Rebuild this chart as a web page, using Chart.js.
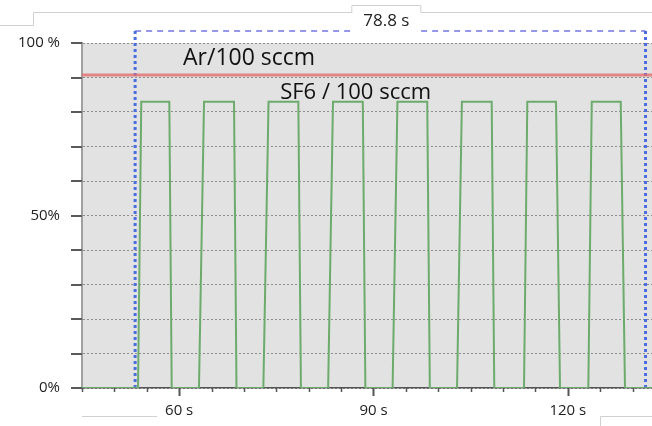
<!DOCTYPE html>
<html>
<head>
<meta charset="utf-8">
<script src="https://cdn.jsdelivr.net/npm/chart.js@4"></script>
<style>
  html, body { margin: 0; padding: 0; background: #fff; overflow: hidden; }
  #wrap { width: 652px; height: 426px; position: relative; }
  canvas { display: block; }
</style>
</head>
<body>
<div id="wrap"><canvas id="gasChart"></canvas></div>
<script>
// SF6 flow trace (time in s, flow in %)
const sf6Time = [45, 53.65, 54.15, 58.48, 58.85,
  63.06, 63.84, 68.47, 68.85,
  73.0, 73.8, 78.4, 78.8,
  83.0, 83.75, 88.35, 88.75,
  92.95, 93.7, 98.3, 98.7,
  102.9, 103.65, 108.25, 108.65,
  113.24, 113.75, 118.18, 118.8,
  123.17, 123.7, 128.17, 128.83, 133];
const sf6Percent = [0, 0, 83, 83, 0,
  0, 83, 83, 0,
  0, 83, 83, 0,
  0, 83, 83, 0,
  0, 83, 83, 0,
  0, 83, 83, 0,
  0, 83, 83, 0,
  0, 83, 83, 0, 0];
// Ar flow is flat
const arTime = [45, 133];
const arPercent = [90.7, 90.7];
// measurement cursors
const cursorTimes = [53.2, 132.0];
const cursorTop = 103.5;
// axis ticks and labels
const xTickValues = [45, 50, 55, 60, 65, 70, 75, 80, 85, 90, 95, 100, 105, 110, 115, 120, 125, 130];
const xLabelTimes = [60, 90, 120];
const yLabelValues = [0, 50, 100];
const yLabelText = ['0%', '50%', '100 %'];

const FONT = '"Open Sans", "Noto Sans", sans-serif';
const pts = (xs, ys) => xs.map((x, i) => ({ x: x, y: ys[i] }));

const decor = {
  id: 'decor',
  beforeDraw(chart) {
    const { ctx, chartArea: a } = chart;
    ctx.save();
    ctx.fillStyle = '#e2e2e2';
    ctx.fillRect(a.left, a.top, a.right - a.left, a.bottom - a.top);
    // faint screenshot frame lines
    ctx.strokeStyle = '#d0d0d0';
    ctx.lineWidth = 1;
    ctx.beginPath();
    ctx.moveTo(0, 25.5); ctx.lineTo(33.5, 25.5); ctx.lineTo(33.5, 12.5); ctx.lineTo(353, 12.5);
    ctx.moveTo(421, 12.5); ctx.lineTo(652, 12.5);
    ctx.moveTo(82, 416.5); ctx.lineTo(157, 416.5);
    ctx.moveTo(652, 416.5); ctx.lineTo(600.5, 416.5); ctx.lineTo(600.5, 426);
    ctx.stroke();
    ctx.restore();
  },
  afterDraw(chart) {
    const { ctx, chartArea: a } = chart;
    const xs = chart.scales.x, ys = chart.scales.y;
    ctx.save();
    // x ticks
    ctx.strokeStyle = '#555';
    xs.ticks.forEach(t => {
      const px = Math.round(xs.getPixelForValue(t.value)) + 0.5;
      const major = xLabelTimes.includes(t.value);
      ctx.lineWidth = major ? 2 : 1.5;
      ctx.beginPath();
      ctx.moveTo(px, a.bottom);
      ctx.lineTo(px, a.bottom + (major ? 8 : 4));
      ctx.stroke();
    });
    // y ticks
    ctx.strokeStyle = '#5a5a5a';
    ctx.lineWidth = 2;
    ys.ticks.forEach(t => {
      const py = Math.round(ys.getPixelForValue(t.value));
      ctx.beginPath();
      ctx.moveTo(a.left - 11, py);
      ctx.lineTo(a.left, py);
      ctx.stroke();
    });
    // annotations
    ctx.fillStyle = '#111';
    ctx.textBaseline = 'middle';
    ctx.textAlign = 'left';
    ctx.font = '23px ' + FONT;
    ctx.fillText('Ar/100 sccm', xs.getPixelForValue(60.6), ys.getPixelForValue(95.4));
    ctx.font = '22px ' + FONT;
    ctx.fillText('SF6 / 100 sccm', xs.getPixelForValue(75.6), ys.getPixelForValue(85.6));
    // cursor span label
    const c0 = xs.getPixelForValue(cursorTimes[0]);
    const c1 = xs.getPixelForValue(cursorTimes[1]);
    const mid = (c0 + c1) / 2 - 4;
    ctx.fillStyle = '#fff';
    ctx.fillRect(mid - 34, 5, 68, 31);
    ctx.strokeStyle = '#d0d0d0';
    ctx.lineWidth = 1;
    ctx.beginPath();
    ctx.moveTo(mid - 34.5, 12.5); ctx.lineTo(mid - 34.5, 5.5); ctx.lineTo(mid + 34.5, 5.5); ctx.lineTo(mid + 34.5, 12.5);
    ctx.stroke();
    ctx.fillStyle = '#222';
    ctx.font = '17px ' + FONT;
    ctx.textAlign = 'center';
    ctx.fillText((cursorTimes[1] - cursorTimes[0]).toFixed(1) + ' s', mid, 21);
    ctx.restore();
  }
};

const cursorLine = t => ({
  data: pts([t, t], [0, cursorTop]),
  borderColor: '#4a6ee0',
  borderWidth: 3,
  borderDash: [3, 3],
  pointRadius: 0,
  clip: false
});

new Chart(document.getElementById('gasChart'), {
  type: 'line',
  data: {
    datasets: [
      {
        data: pts(sf6Time, sf6Percent),
        borderColor: '#6cab6c',
        borderWidth: 2,
        pointRadius: 0,
        tension: 0
      },
      {
        data: pts(arTime, arPercent),
        borderColor: 'rgba(228, 110, 110, 0.8)',
        borderWidth: 3,
        pointRadius: 0
      },
      cursorLine(cursorTimes[0]),
      cursorLine(cursorTimes[1]),
      {
        data: pts(cursorTimes, [cursorTop, cursorTop]),
        borderColor: '#7474e4',
        borderWidth: 1.5,
        borderDash: [6, 5],
        pointRadius: 4,
        pointBorderWidth: 2,
        pointBackgroundColor: '#fff',
        pointBorderColor: '#7474e4',
        clip: false
      }
    ]
  },
  options: {
    responsive: true,
    maintainAspectRatio: false,
    animation: false,
    devicePixelRatio: 1,
    layout: { autoPadding: false, padding: { top: 43, right: 0, left: 0, bottom: 0 } },
    plugins: { legend: { display: false }, tooltip: { enabled: false } },
    scales: {
      x: {
        type: 'linear',
        min: 45,
        max: 133,
        afterBuildTicks: s => { s.ticks = xTickValues.map(v => ({ value: v })); },
        afterFit: s => { s.height = 38; s.paddingLeft = 0; s.paddingRight = 0; },
        grid: { display: false, drawTicks: false },
        border: { display: true, color: '#555', width: 1.5 },
        ticks: {
          autoSkip: false,
          maxRotation: 0,
          padding: 14,
          color: '#222',
          font: { family: FONT, size: 15 },
          callback: v => xLabelTimes.includes(v) ? v + ' s' : ''
        }
      },
      y: {
        min: 0,
        max: 100,
        afterFit: s => { s.width = 82; s.paddingTop = 0; s.paddingBottom = 0; },
        grid: { color: '#8d8d8d', lineWidth: 1, drawTicks: false },
        border: { display: true, color: '#a0a0a0', width: 2, dash: [2, 2] },
        ticks: {
          stepSize: 10,
          padding: 22,
          color: '#222',
          font: { family: FONT, size: 15 },
          callback: v => {
            const i = yLabelValues.indexOf(v);
            return i >= 0 ? yLabelText[i] : '';
          }
        }
      }
    }
  },
  plugins: [decor]
});
</script>
</body>
</html>
